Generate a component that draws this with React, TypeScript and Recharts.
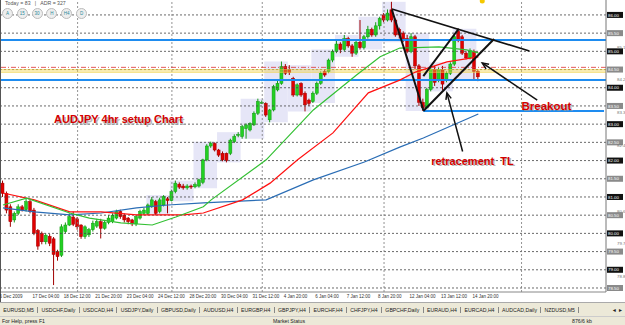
import React from 'react';
import { ComposedChart, Bar, Line, XAxis, YAxis, ReferenceLine, ReferenceDot, ReferenceArea } from 'recharts';

// AUDJPY H4 candles (index 0 = 15 Dec 20:00)
const opens = [
  81.38, 81.10, 80.73, 80.37, 80.55, 80.73, 80.65, 80.87, 80.64, 80.08,
  80.00, 79.77, 79.92, 79.85, 79.50, 79.40, 80.05, 80.23, 80.45, 80.40,
  80.23, 79.91, 79.96, 80.10, 80.20, 80.32, 80.14, 80.30, 80.32, 80.42,
  80.60, 80.50, 80.42, 80.37, 80.26, 80.42, 80.55, 80.55, 80.74, 80.87,
  80.60, 80.78, 80.95, 80.90, 81.15, 81.35, 81.30, 81.25, 81.30, 81.28,
  81.30, 81.40, 82.02, 82.40, 82.47, 82.29, 82.20, 82.20, 82.20, 82.52,
  82.70, 82.66, 82.88, 82.84, 82.98, 83.30, 83.60, 83.57, 83.12, 83.39,
  83.94, 84.12, 84.58, 84.50, 84.26, 83.80, 84.12, 83.85, 83.66, 83.62,
  83.85, 84.12, 84.44, 84.44, 84.76, 85.00, 85.20, 85.05, 85.35, 85.15,
  84.95, 85.25, 85.10, 85.40, 85.60, 85.45, 85.70, 86.00, 85.86, 86.14,
  85.86, 85.60, 85.50, 85.35, 85.00, 85.40, 84.60, 83.60, 83.45, 83.95,
  84.50, 84.20, 84.49, 84.20, 84.40, 84.65, 85.55, 85.40, 84.95, 84.82,
  85.00, 84.45,
];
const highs = [
  81.45, 81.15, 80.80, 80.60, 80.80, 80.78, 80.95, 80.92, 80.70, 80.12,
  80.05, 80.00, 79.98, 79.90, 79.55, 80.25, 80.30, 80.55, 80.60, 80.45,
  80.25, 80.22, 80.15, 80.35, 80.40, 80.40, 80.35, 80.50, 80.55, 80.65,
  80.65, 80.55, 80.45, 80.40, 80.50, 80.65, 80.70, 80.82, 81.00, 80.92,
  80.98, 81.05, 81.00, 81.20, 81.45, 81.40, 81.36, 81.35, 81.34, 81.40,
  81.50, 82.05, 82.45, 82.52, 82.50, 82.32, 82.25, 82.22, 82.60, 82.72,
  82.78, 82.98, 83.02, 83.05, 83.35, 83.70, 83.65, 83.60, 83.42, 84.08,
  84.20, 84.72, 84.65, 84.62, 84.30, 84.12, 84.15, 83.90, 83.70, 83.90,
  84.17, 84.45, 84.50, 84.80, 85.05, 85.30, 85.25, 85.45, 85.40, 85.20,
  85.30, 85.86, 85.45, 85.70, 85.65, 85.80, 85.95, 86.05, 86.15, 86.36,
  85.90, 85.65, 85.55, 85.45, 85.50, 85.45, 84.65, 83.70, 84.00, 84.55,
  84.60, 84.55, 84.60, 84.45, 84.70, 85.45, 85.62, 85.45, 85.00, 85.08,
  85.05, 84.50,
];
const lows = [
  81.00, 80.55, 80.18, 80.30, 80.50, 80.60, 80.60, 80.55, 79.95, 79.55,
  79.70, 79.70, 79.65, 78.58, 79.25, 79.35, 80.00, 80.20, 80.20, 80.10,
  79.85, 79.85, 79.90, 80.05, 80.15, 79.86, 80.10, 80.25, 80.28, 80.38,
  80.40, 80.30, 80.25, 80.20, 80.20, 80.38, 80.50, 80.50, 80.70, 80.50,
  80.55, 80.74, 80.55, 80.88, 81.10, 81.22, 81.20, 81.20, 81.22, 81.24,
  81.26, 81.35, 81.98, 82.35, 82.25, 82.10, 81.98, 81.95, 82.15, 82.48,
  82.64, 82.60, 82.60, 82.80, 82.95, 83.25, 83.55, 83.20, 83.05, 83.35,
  83.90, 84.08, 84.35, 84.35, 83.75, 83.76, 83.75, 83.35, 83.50, 83.58,
  83.80, 84.08, 84.30, 84.40, 84.70, 84.95, 84.95, 85.00, 85.10, 84.85,
  84.90, 85.05, 85.05, 85.35, 85.40, 85.40, 85.60, 85.80, 85.82, 85.80,
  85.40, 85.35, 85.25, 84.95, 84.95, 84.50, 83.50, 83.36, 83.42, 83.90,
  84.05, 84.15, 83.94, 84.15, 84.35, 84.60, 85.25, 84.90, 84.78, 84.78,
  84.22, 84.18,
];
const closes = [
  81.10, 80.64, 80.32, 80.55, 80.73, 80.64, 80.87, 80.60, 80.00, 79.65,
  79.77, 79.95, 79.73, 79.42, 79.36, 80.18, 80.23, 80.46, 80.25, 80.18,
  79.91, 80.18, 80.10, 80.28, 80.32, 80.14, 80.30, 80.42, 80.50, 80.60,
  80.46, 80.37, 80.32, 80.26, 80.46, 80.60, 80.64, 80.78, 80.92, 80.55,
  80.92, 81.01, 80.90, 81.15, 81.38, 81.27, 81.25, 81.30, 81.28, 81.34,
  81.47, 82.02, 82.40, 82.47, 82.29, 82.15, 82.02, 82.00, 82.56, 82.66,
  82.72, 82.93, 82.98, 83.02, 83.30, 83.62, 83.60, 83.25, 83.39, 84.03,
  84.12, 84.58, 84.40, 84.42, 83.80, 84.08, 83.80, 83.53, 83.57, 83.85,
  84.12, 84.40, 84.35, 84.76, 85.00, 85.20, 85.05, 85.35, 85.15, 84.95,
  85.25, 85.10, 85.40, 85.60, 85.45, 85.70, 85.90, 85.86, 86.05, 85.86,
  85.45, 85.45, 85.31, 85.00, 85.40, 84.60, 83.60, 83.45, 83.95, 84.50,
  84.15, 84.49, 84.10, 84.40, 84.65, 85.40, 85.31, 84.95, 84.82, 85.02,
  84.45, 84.30,
];

// moving averages, [bar index, price] read at points along each curve
const greenMA = [
  [0, 80.78], [6, 80.97], [17, 80.56], [22, 80.42], [30, 80.29], [38, 80.23], [44, 80.45],
  [51, 80.73], [53, 80.92], [67, 82.02], [79, 83.39], [90, 84.35], [96, 84.85], [101, 85.09],
  [111, 85.12], [118, 85.04], [121, 84.96],
];
const redMA = [
  [0, 81.11], [8, 80.92], [17, 80.59], [25, 80.59], [34, 80.51], [46, 80.51], [51, 80.56],
  [61, 80.92], [68, 81.38], [75, 82.02], [84, 82.76], [93, 83.86], [101, 84.21], [105, 84.43],
  [113, 84.71], [121, 84.85],
];
const blueMA = [
  [0, 80.70], [8, 80.59], [17, 80.51], [25, 80.56], [34, 80.70], [42, 80.78], [51, 80.84],
  [67, 80.92], [79, 81.47], [92, 81.96], [101, 82.37], [107, 82.62], [121, 83.28],
];

// first bar of each trading day (for the daily range boxes)
const dayStarts = [37, 43, 49, 55, 61, 67, 73, 79, 85, 91, 97, 103, 109, 115];

const SLOTS = 154; // bars + empty space to the right (chart shift)
const tickIdx = [0, 8, 16, 24, 32, 40, 48, 56, 64, 72, 80, 88, 96, 104, 112, 120];
const tickLabels = [
  '16 Dec 2009', '17 Dec 04:00', '18 Dec 12:00', '21 Dec 20:00', '23 Dec 04:00', '24 Dec 12:00',
  '28 Dec 20:00', '30 Dec 04:00', '31 Dec 12:00', '4 Jan 20:00', '6 Jan 04:00', '7 Jan 12:00',
  '8 Jan 20:00', '12 Jan 04:00', '13 Jan 12:00', '14 Jan 20:00',
];
const priceTicks = [
  78.35, 78.8, 79.25, 79.7, 80.15, 80.6, 81.05, 81.5, 81.95, 82.4, 82.85, 83.3, 83.75, 84.2,
  84.65, 85.1, 85.55, 86.0,
];
const gridLevels = [86, 85.5, 85, 84.5, 84, 83.5, 83, 82.5, 82, 81.5, 81, 80.5, 80, 79.5, 79, 78.5];
const separators = [19, 43, 66, 97, 132];
const blueLevels = [85.31, 84.21];
const lowLevel = 83.36;
const tabs = [
  'EURUSD,M5', 'USDCHF,Daily', 'USDCAD,H4', 'USDJPY,Daily', 'GBPUSD,Daily', 'AUDUSD,H4',
  'EURGBP,H4', 'GBPJPY,H4', 'EURCHF,H4', 'CHFJPY,H4', 'GBPCHF,Daily', 'EURAUD,H4', 'EURCAD,H4',
  'AUDCAD,Daily', 'NZDUSD,M5',
];
const buttons = ['A', '15', '30', 'H', 'H4', 'D'];

const data: any[] = Array.from({ length: SLOTS }, (_, i) => {
  const row: any = { i };
  if (i < opens.length) {
    row.o = opens[i];
    row.h = highs[i];
    row.l = lows[i];
    row.c = closes[i];
    row.range = [lows[i], highs[i]];
  }
  return row;
});
greenMA.forEach(([i, v]) => (data[i].g = v));
redMA.forEach(([i, v]) => (data[i].r = v));
blueMA.forEach(([i, v]) => (data[i].b = v));

const dayBoxes = dayStarts.map((s, k) => {
  const e = Math.min((dayStarts[k + 1] ?? s + 6) - 1, opens.length - 1);
  return { s, e, hi: Math.max(...highs.slice(s, e + 1)), lo: Math.min(...lows.slice(s, e + 1)) };
});

const FONT = '"Liberation Sans", Arial, sans-serif';

const Candle = (props: any) => {
  const { x, y, width, height, payload } = props;
  if (!payload || payload.o == null) return null;
  const { o, h, l, c } = payload;
  const top = Math.min(y, y + height);
  const hh = Math.abs(height);
  const py = (v: number) => (h === l ? top : top + ((h - v) / (h - l)) * hh);
  const up = c >= o;
  const fill = up ? '#22d022' : '#e00000';
  const edge = up ? '#139a13' : '#a00000';
  const cx = x + width / 2;
  const bt = py(Math.max(o, c));
  const bb = py(Math.min(o, c));
  return (
    <g>
      <line x1={cx} x2={cx} y1={top} y2={top + hh} stroke={edge} strokeWidth={1} />
      <rect x={x} y={bt} width={width} height={Math.max(1, bb - bt)} fill={fill} stroke={edge} strokeWidth={0.5} />
    </g>
  );
};

const XTick = (props: any) => {
  const { x, y, payload } = props;
  const k = tickIdx.indexOf(payload.value);
  if (k < 0) return null;
  return (
    <text x={x + (k === 0 ? -6 : -2)} y={y - 2} fontSize={4.5} fill="#333" fontFamily={FONT}>
      {tickLabels[k]}
    </text>
  );
};

const YTick = (props: any) => {
  const { x, y, payload } = props;
  // labels that sit under a boxed grid label are hidden, as on the terminal
  if (gridLevels.includes(payload.value)) return null;
  return (
    <text x={x + 3} y={y + 1} fontSize={4.4} fill="#777" fontFamily={FONT}>
      {payload.value.toFixed(2)}
    </text>
  );
};

const boxLabel = (text: string, fill: string) => (p: any) => {
  const vb = p.viewBox || {};
  const x = vb.x + vb.width;
  return (
    <g>
      <rect x={x + 1} y={vb.y - 3} width={16} height={6} fill={fill} />
      <text x={x + 2} y={vb.y + 1.7} fontSize={4.4} fill="#fff" fontFamily={FONT}>{text}</text>
    </g>
  );
};

const arrowShape = (p: any) => {
  const { x1, y1, x2, y2 } = p;
  const a = Math.atan2(y2 - y1, x2 - x1);
  const L = 7;
  const s = 0.4;
  return (
    <g>
      <line x1={x1} y1={y1} x2={x2} y2={y2} stroke="#111" strokeWidth={1.5} />
      <path
        d={`M${x2 - L * Math.cos(a - s)},${y2 - L * Math.sin(a - s)} L${x2},${y2} L${x2 - L * Math.cos(a + s)},${y2 - L * Math.sin(a + s)}`}
        fill="none"
        stroke="#111"
        strokeWidth={1.5}
      />
    </g>
  );
};

const note = (text: string, size: number) => (p: any) => (
  <g fontFamily={FONT} fontWeight="bold" fontSize={size}>
    <text x={p.cx + 1.5} y={p.cy + 1.5} fill="#9a9a9a" opacity={0.7} style={{ whiteSpace: 'pre' }}>{text}</text>
    <text x={p.cx} y={p.cy} fill="#d40000" style={{ whiteSpace: 'pre' }}>{text}</text>
  </g>
);

export default function App() {
  return (
    <div style={{ position: 'absolute', left: 0, top: 0, width: 625, height: 325, background: '#fff', overflow: 'hidden', fontFamily: FONT }}>
      <div style={{ position: 'absolute', left: 0, top: 0, width: 1, height: 303, background: '#555' }} />
      <ComposedChart width={625} height={302} data={data} margin={{ top: 0, right: 0, left: 1, bottom: 0 }} barCategoryGap={0} barGap={0}>
        {dayBoxes.map((d) => (
          <ReferenceArea key={`d${d.s}`} x1={d.s} x2={d.e} y1={d.lo} y2={d.hi} fill="#e6e6f7" fillOpacity={1} stroke="none" />
        ))}
        <XAxis dataKey="i" type="category" ticks={tickIdx} interval={0} tick={<XTick />} tickLine={false} height={10} stroke="#888" />
        <YAxis orientation="right" type="number" domain={[78.39, 86.41]} allowDataOverflow ticks={priceTicks} tick={<YTick />} tickLine={false} width={19} stroke="#777" />
        {gridLevels.map((v) => (
          <ReferenceLine
            key={`g${v}`}
            y={v}
            stroke="#444"
            strokeDasharray="2 2"
            strokeWidth={0.8}
            label={boxLabel(v.toFixed(2), Number.isInteger(v) ? '#111' : '#8a8a8a')}
          />
        ))}
        {separators.map((s) => (
          <ReferenceLine key={`s${s}`} x={s} stroke="#777" strokeDasharray="2 2" strokeWidth={0.8} />
        ))}
        {blueLevels.map((v) => (
          <ReferenceLine key={`b${v}`} y={v} stroke="#1e8cf0" strokeWidth={2} />
        ))}
        <ReferenceLine segment={[{ x: 107, y: lowLevel }, { x: 153, y: lowLevel }]} stroke="#1e8cf0" strokeWidth={2} />
        <ReferenceLine y={84.56} stroke="#e03030" strokeDasharray="5 2 1 2" strokeWidth={0.8} />
        <ReferenceLine y={84.49} stroke="#f0d040" strokeWidth={1} />
        <ReferenceLine y={84.43} stroke="#f0d040" strokeWidth={1} />

        <Bar dataKey="range" shape={<Candle />} barSize={3} isAnimationActive={false} />
        <Line dataKey="b" stroke="#2a6db5" strokeWidth={1.2} dot={false} connectNulls isAnimationActive={false} />
        <Line dataKey="r" stroke="#ff1010" strokeWidth={1.2} dot={false} connectNulls isAnimationActive={false} />
        <Line dataKey="g" stroke="#33c033" strokeWidth={1.2} dot={false} connectNulls isAnimationActive={false} />

        {/* trend lines */}
        <ReferenceLine segment={[{ x: 99, y: 86.16 }, { x: 134, y: 85.01 }]} stroke="#111" strokeWidth={1.6} />
        <ReferenceLine segment={[{ x: 99, y: 86.14 }, { x: 107, y: 83.39 }]} stroke="#111" strokeWidth={2} />
        <ReferenceLine segment={[{ x: 107, y: 83.36 }, { x: 125, y: 85.34 }]} stroke="#111" strokeWidth={2} />
        <ReferenceLine segment={[{ x: 107, y: 84.32 }, { x: 116, y: 85.62 }]} stroke="#111" strokeWidth={2} />
        <ReferenceLine segment={[{ x: 136, y: 83.66 }, { x: 122, y: 84.68 }]} shape={arrowShape} />
        <ReferenceLine segment={[{ x: 117, y: 82.25 }, { x: 113, y: 83.86 }]} shape={arrowShape} />

        <ReferenceDot x={13} y={83.03} r={0} shape={note('AUDJPY 4hr setup Chart', 11)} />
        <ReferenceDot x={132} y={83.39} r={0} shape={note('Breakout', 11.5)} />
        <ReferenceDot x={109} y={81.88} r={0} shape={note('retracement  TL', 11)} />
        <ReferenceDot x={122} y={86.38} r={2.5} fill="#f5c800" stroke="none" />
      </ComposedChart>

      <div style={{ position: 'absolute', left: 5, top: 0, fontSize: 5.2, color: '#555', whiteSpace: 'pre' }}>
        {'Today = 83   |   ADR = 327'}
      </div>
      {buttons.map((b, k) => (
        <div
          key={b}
          style={{
            position: 'absolute', left: 2 + k * 14.8, top: 8, width: 9, height: 9, borderRadius: '50%',
            border: '1px solid #bbb', background: '#eee', fontSize: 4.5, color: '#2a8a9a',
            display: 'flex', alignItems: 'center', justifyContent: 'center',
          }}
        >
          {b}
        </div>
      ))}

      <div style={{ position: 'absolute', left: 0, top: 302, width: 625, height: 13, background: '#ece9d8', borderTop: '1px solid #aaa', display: 'flex', alignItems: 'center', fontSize: 5.2, color: '#222', whiteSpace: 'nowrap' }}>
        {tabs.map((t) => (
          <span key={t} style={{ padding: '0 3.3px', borderRight: '1px solid #888' }}>{t}</span>
        ))}
        <span style={{ position: 'absolute', right: 2, fontSize: 5 }}>{'◄ ►'}</span>
      </div>
      <div style={{ position: 'absolute', left: 0, top: 316, width: 625, height: 9, background: '#ece9d8', borderTop: '1px solid #ccc', fontSize: 5.2, color: '#222' }}>
        <span style={{ position: 'absolute', left: 2, top: 1 }}>For Help, press F1</span>
        <span style={{ position: 'absolute', left: 273, top: 1 }}>Market Status</span>
        <span style={{ position: 'absolute', left: 572, top: 1 }}>876/6 kb</span>
      </div>
    </div>
  );
}
